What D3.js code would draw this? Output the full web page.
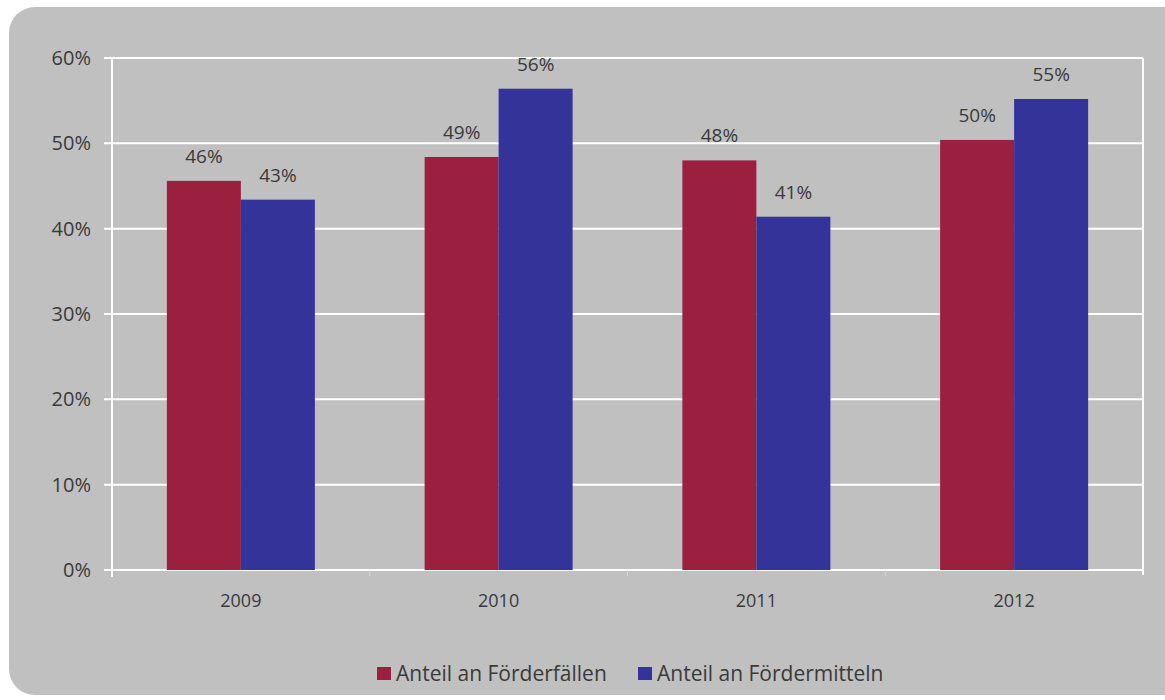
<!DOCTYPE html>
<html><head><meta charset="utf-8">
<script src="https://cdn.jsdelivr.net/npm/d3@7"></script>
<style>html,body{margin:0;padding:0;background:#fff;} svg{display:block;}</style>
</head><body>
<svg id="chart" width="1165" height="700"></svg>
<script>
const categories = ["2009", "2010", "2011", "2012"];
const seriesNames = ["Anteil an Förderfällen", "Anteil an Fördermitteln"];
const faelle = [45.6, 48.4, 48.0, 50.4];
const mittel = [43.4, 56.4, 41.4, 55.2];
const faelleLabels = ["46%", "49%", "48%", "50%"];
const mittelLabels = ["43%", "56%", "41%", "55%"];
const yTicks = [0, 10, 20, 30, 40, 50, 60];
const colors = ["#9B1F3E", "#333399"];

const svg = d3.select("#chart");
const font = "'Open Sans', 'Noto Sans', sans-serif";
const textColor = "#3a3a3a";

svg.append("rect").attr("x", 9).attr("y", 7).attr("width", 1180).attr("height", 688)
  .attr("rx", 26).attr("ry", 26).attr("fill", "#c0c0c0");

const pLeft = 112, pRight = 1143, pTop = 58, pBottom = 570;
const y = d3.scaleLinear().domain([0, 60]).range([pBottom, pTop]);
const x0 = d3.scaleBand().domain(categories).range([pLeft, pRight]).paddingInner(0.4258).paddingOuter(0.2129);
const x1 = d3.scaleBand().domain([0, 1]).range([0, x0.bandwidth()]);

// gridlines
const grid = svg.append("g");
grid.selectAll("line").data(yTicks).join("line")
  .attr("x1", pLeft - 8).attr("x2", pRight)
  .attr("y1", d => y(d)).attr("y2", d => y(d))
  .attr("stroke", "#ffffff").attr("stroke-width", 2);
// left axis line & right border
svg.append("line").attr("x1", pLeft).attr("x2", pLeft).attr("y1", pTop).attr("y2", pBottom + 7).attr("stroke", "#fff").attr("stroke-width", 2);
svg.append("line").attr("x1", pRight).attr("x2", pRight).attr("y1", pTop).attr("y2", pBottom + 5).attr("stroke", "#fff").attr("stroke-width", 2);
// category separator ticks (faint)
const seps = categories.slice(1).map(c => x0(c) - x0.step() * x0.paddingInner() / 2);
svg.selectAll(".sep").data(seps).join("line")
  .attr("x1", d => d).attr("x2", d => d).attr("y1", pBottom).attr("y2", pBottom + 6)
  .attr("stroke", "#d8d8d8").attr("stroke-width", 1);

// y tick labels
svg.selectAll(".ylab").data(yTicks).join("text")
  .attr("x", 91).attr("y", d => y(d)).attr("dy", "0.35em")
  .attr("text-anchor", "end").attr("font-family", font).attr("font-size", 20)
  .attr("fill", textColor).text(d => d + "%");

// bars
const data = categories.map((c, i) => ({cat: c, vals: [faelle[i], mittel[i]], labs: [faelleLabels[i], mittelLabels[i]]}));
const groups = svg.selectAll(".grp").data(data).join("g").attr("transform", d => `translate(${x0(d.cat)},0)`);
groups.selectAll("rect").data(d => d.vals.map((v, k) => ({v, k}))).join("rect")
  .attr("x", d => x1(d.k)).attr("width", x1.bandwidth())
  .attr("y", d => y(d.v)).attr("height", d => y(0) - y(d.v))
  .attr("fill", d => colors[d.k]);
groups.selectAll("text").data(d => d.vals.map((v, k) => ({v, k, lab: d.labs[k]}))).join("text")
  .attr("x", d => x1(d.k) + x1.bandwidth() / 2).attr("y", d => y(d.v) - 18)
  .attr("text-anchor", "middle").attr("font-family", font).attr("font-size", 19)
  .attr("fill", textColor).text(d => d.lab);

// x labels
svg.selectAll(".xlab").data(categories).join("text")
  .attr("x", d => x0(d) + x0.bandwidth() / 2).attr("y", 607)
  .attr("text-anchor", "middle").attr("font-family", font).attr("font-size", 18)
  .attr("fill", textColor).text(d => d);

// legend
const legX = [377, 638];
const leg = svg.selectAll(".leg").data(seriesNames).join("g").attr("transform", (d, i) => `translate(${legX[i]},674)`);
leg.append("rect").attr("x", 0).attr("y", -7).attr("width", 14).attr("height", 13).attr("fill", (d, i) => colors[i]);
leg.append("text").attr("x", 19).attr("y", 0).attr("dy", "0.35em")
  .attr("font-family", font).attr("font-size", 21).attr("fill", textColor).text(d => d);
</script>
</body></html>
